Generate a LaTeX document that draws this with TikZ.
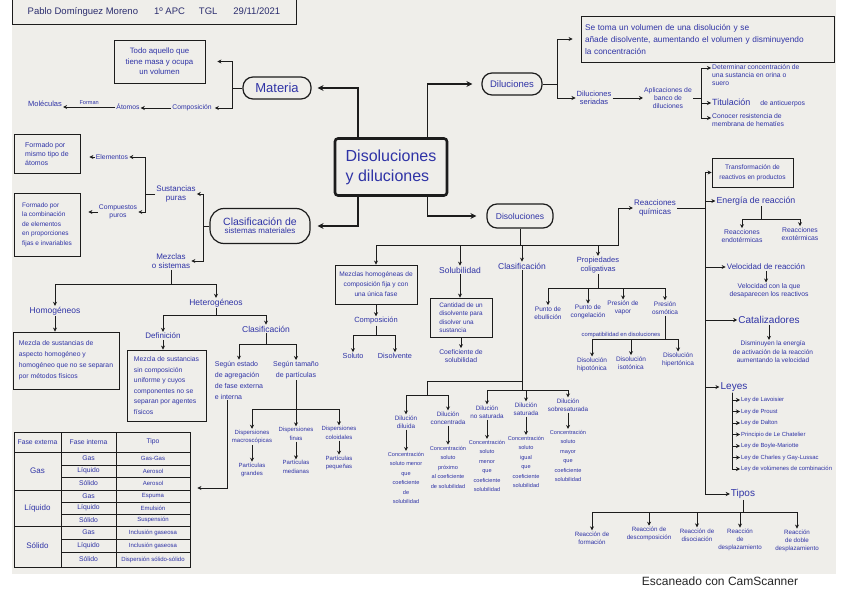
\documentclass[tikz,border=0pt]{standalone}
\usepackage{fontspec}
\setmainfont{Liberation Sans}
\usepackage{tikz}
\usetikzlibrary{positioning,arrows.meta,calc}
\definecolor{ink}{HTML}{2F33A6}
\definecolor{pen}{HTML}{1C1C1C}
\definecolor{paper}{HTML}{EFEEEA}
\definecolor{headink}{HTML}{2B2D6E}

\begin{document}
\begin{tikzpicture}[x=1pt, y=-1pt,
    hand/.style={text=ink, font=\fontsize{6.8}{8.3}\selectfont, align=center, inner sep=1pt},
    handTiny/.style={hand, font=\fontsize{5.6}{9.5}\selectfont},
    noteBox/.style={draw=pen, thick, hand, align=left, inner sep=3pt},
    bubble/.style={draw=pen, very thick, rounded corners=10pt, hand, inner sep=1pt},
    treeArrow/.style={-{Stealth[length=4pt, width=4pt]}, thick, draw=pen},
    treeLine/.style={thick, draw=pen},
    mainArrow/.style={-{Stealth[length=6pt, width=6pt]}, line width=1.6pt, draw=pen},
    cell/.style={text=ink, font=\fontsize{6.8}{8}\selectfont, inner sep=0pt}
]
    % Paper
    \fill[white] (0,0) rectangle (848,599);
    \fill[paper] (12,0) rectangle (836,574);
    \useasboundingbox (0,0) rectangle (848,599);

    % Header
    \node[draw=pen, thick, minimum width=284pt, minimum height=25pt, text=headink, font=\fontsize{9.5}{11}\selectfont] (head) at (154,11.5) {Pablo Domínguez Moreno\hspace{16pt}1º APC\hspace{14pt}TGL\hspace{16pt}29/11/2021};

    % Central node
    \node[draw=pen, line width=2.6pt, rounded corners=3pt, minimum width=112pt, minimum height=57pt, text=ink, font=\fontsize{16}{20}\selectfont, align=left, inner sep=2pt] (central) at (391,167) {Disoluciones\\y diluciones};

    % Materia
    \node[bubble, minimum width=68pt, minimum height=22pt, font=\fontsize{13}{14}\selectfont] (materia) at (277,88) {Materia};
    \node[noteBox, align=center, minimum width=91pt, minimum height=43pt, font=\fontsize{7.8}{10.5}\selectfont] (todo) at (159.5,61.5) {Todo aquello que\\tiene masa y ocupa\\un volumen};
    \node[hand] (compo) at (192,108) {Composición};
    \node[hand] (atomos) at (128,107) {Átomos};
    \node[hand, font=\fontsize{7.5}{8}\selectfont] (molec) at (45,104) {Moléculas};

    \draw[mainArrow, shorten >=6pt] ([xshift=24pt]central.north west) |- (materia.east);
    \draw[treeLine] (materia.west) -- ++(-10,0) coordinate (matJ);
    \draw[treeArrow, shorten >=12pt] (matJ) |- (todo.east);
    \draw[treeArrow, shorten >=2pt] (matJ) |- (compo.east);
    \draw[treeArrow] (compo.west) -- (compo.west -| atomos.east);
    \draw[treeArrow] (atomos.west) -- (atomos.west -| molec.east)
        node[midway, above=1pt, handTiny] (forman) {Forman};

    % Diluciones
    \node[bubble, minimum width=60pt, minimum height=22pt, font=\fontsize{9.5}{11}\selectfont] (dilu) at (512,84) {Diluciones};
    \node[noteBox, minimum width=253pt, minimum height=46pt, text width=245pt, font=\fontsize{8.3}{12}\selectfont] (diluBox) at (707.5,39) {Se toma un volumen de una disolución y se\\añade disolvente, aumentando el volumen y disminuyendo\\la concentración};
    \node[hand, font=\fontsize{7.5}{8.5}\selectfont] (seriadas) at (594,98) {Diluciones\\seriadas};
    \node[hand] (aplic) at (668,98) {Aplicaciones de\\banco de\\diluciones};
    \node[hand, anchor=north west, align=left] (determ) at (711,63) {Determinar concentración de\\una sustancia en orina o\\suero};
    \node[hand, anchor=west, align=left] (titul) at (711,103) {{\fontsize{9}{10}\selectfont Titulación}\hspace{10pt}de anticuerpos};
    \node[hand, anchor=north west, align=left] (conocer) at (711,112) {Conocer resistencia de\\membrana de hematíes};

    \draw[mainArrow, shorten >=9pt] ([xshift=-21pt]central.north east) |- (dilu.west);
    \draw[treeLine] (dilu.east) -- ++(15,0) coordinate (diluJ);
    \draw[treeArrow, shorten >=8pt] (diluJ) |- (diluBox.west);
    \draw[treeArrow] (diluJ) |- (seriadas.west);
    \draw[treeArrow] (seriadas.east) -- (aplic.west);
    \draw[treeLine] (aplic.east) -- ++(8,0) coordinate (aplJ);
    \draw[treeArrow] (aplJ) |- ([yshift=-5pt]determ.north west);
    \draw[treeArrow] (aplJ) |- (titul.west);
    \draw[treeArrow] (aplJ) |- ([yshift=-6pt]conocer.north west);

    % Clasificacion de sistemas materiales
    \node[bubble, minimum width=100pt, minimum height=35pt, rounded corners=14pt] (clasif) at (260,226) {{\fontsize{10.5}{12}\selectfont Clasificación de}\\{\fontsize{8}{9.5}\selectfont sistemas materiales}};
    \draw[mainArrow, shorten >=7pt] ([xshift=24pt]central.south west) |- (clasif.east);

    \node[hand, font=\fontsize{8}{9.5}\selectfont] (sustp) at (176,194) {Sustancias\\puras};
    \node[hand, font=\fontsize{8}{9.5}\selectfont] (mezclas) at (171,261) {Mezclas\\o sistemas};
    \draw[treeLine] (clasif.west) -- ++(-6,0) coordinate (clasJ);
    \draw[treeArrow] (clasJ) |- (sustp.east);
    \draw[treeArrow] (clasJ) |- (mezclas.east);

    \node[noteBox, minimum width=66pt, minimum height=39pt, font=\fontsize{7}{9}\selectfont] (formA) at (47,153.5) {Formado por\\mismo tipo de\\átomos};
    \node[noteBox, minimum width=66pt, minimum height=63pt, font=\fontsize{6.5}{9.5}\selectfont] (formB) at (47,224.5) {Formado por\\la combinación\\de elementos\\en proporciones\\fijas e invariables};
    \node[hand] (elem) at (112,157) {Elementos};
    \node[hand] (compur) at (118,212) {Compuestos\\puros};
    \draw[treeLine] (sustp.west) -- ++(-10,0) coordinate (sustJ);
    \draw[treeArrow] (sustJ) |- (elem.east);
    \draw[treeArrow] (sustJ) |- (compur.east);
    \draw[treeArrow, shorten >=9pt] (elem.west) -- (elem.west -| formA.east);
    \draw[treeArrow, shorten >=8pt] (compur.west) -- (compur.west -| formB.east);

    % Mezclas
    \draw[treeLine] (mezclas.south) -- ++(0,15) coordinate (mezJ);
    \node[hand, font=\fontsize{8.5}{9.5}\selectfont] (homog) at (55,311) {Homogéneos};
    \node[hand, font=\fontsize{8.5}{9.5}\selectfont] (heter) at (216,303) {Heterogéneos};
    \draw[treeArrow] (mezJ) -| (homog.north);
    \draw[treeArrow] (mezJ) -| (heter.north);
    \node[noteBox, minimum width=106pt, minimum height=57pt, font=\fontsize{6.8}{11}\selectfont] (homBox) at (66,360.5) {Mezcla de sustancias de\\aspecto homogéneo y\\homogéneo que no se separan\\por métodos físicos};
    \draw[treeArrow] (homog.south) -- (homog.south |- homBox.north);
    \draw[treeLine] (heter.south) -- ++(0,7) coordinate (hetJ);
    \node[hand, font=\fontsize{8}{9}\selectfont] (defin) at (163,336) {Definición};
    \node[hand, font=\fontsize{8.5}{9.5}\selectfont] (clasB) at (266,329) {Clasificación};
    \draw[treeArrow] (hetJ) -| (defin.north);
    \draw[treeArrow] (hetJ) -| (clasB.north);
    \node[noteBox, minimum width=79pt, minimum height=71pt, font=\fontsize{6.8}{10.5}\selectfont] (defBox) at (166.5,385.5) {Mezcla de sustancias\\sin composición\\uniforme y cuyos\\componentes no se\\separan por agentes\\físicos};
    \draw[treeArrow] (defin.south) -- (defin.south |- defBox.north);
    \draw[treeLine] (clasB.south) -- ++(0,11) coordinate (clasBJ);
    \node[hand, align=left, font=\fontsize{7}{11}\selectfont] (segEst) at (239,380) {Según estado\\de agregación\\de fase externa\\e interna};
    \node[hand, font=\fontsize{7}{11}\selectfont] (segTam) at (296,370) {Según tamaño\\de partículas};
    \draw[treeArrow] (clasBJ) -| (segEst.north);
    \draw[treeArrow] (clasBJ) -| (segTam.north);

    % Dispersiones
    \draw[treeLine] (segTam.south) -- ++(0,29) coordinate (tamJ);
    \node[hand, font=\fontsize{6}{8.5}\selectfont] (dMac) at (252,437) {Dispersiones\\macroscópicas};
    \node[hand, font=\fontsize{6}{8.5}\selectfont] (dFin) at (296,434) {Dispersiones\\finas};
    \node[hand, font=\fontsize{6}{8.5}\selectfont] (dCol) at (339,433) {Dispersiones\\coloidales};
    \draw[treeArrow] (tamJ) -| (dMac.north);
    \draw[treeArrow] (tamJ) -| (dFin.north);
    \draw[treeArrow] (tamJ) -| (dCol.north);
    \node[hand, font=\fontsize{6}{8.5}\selectfont] (pGra) at (252,470) {Partículas\\grandes};
    \node[hand, font=\fontsize{6}{8.5}\selectfont] (pMed) at (296,467) {Partículas\\medianas};
    \node[hand, font=\fontsize{6}{8.5}\selectfont] (pPeq) at (339,463) {Partículas\\pequeñas};
    \draw[treeArrow] (dMac.south) -- (pGra.north);
    \draw[treeArrow] (dFin.south) -- (pMed.north);
    \draw[treeArrow] (dCol.south) -- (pPeq.north);

    % Table of dispersions
    \node[draw=pen, thick, minimum width=176pt, minimum height=135pt, inner sep=0pt] (tabla) at (102,499.5) {};
    \draw[treeLine] (61,432) -- (61,567) (116,432) -- (116,567);
    \draw[treeLine] (14,452) -- (190,452) (14,490) -- (190,490) (14,526) -- (190,526);
    \draw[treeLine] (61,465) -- (190,465) (61,477) -- (190,477) (61,502) -- (190,502)
        (61,514) -- (190,514) (61,539) -- (190,539) (61,552) -- (190,552);
    \node[cell] (hExt) at (37.5,442) {Fase externa};
    \node[cell] (hInt) at (88.5,442) {Fase interna};
    \node[cell] (hTip) at (153,442) {Tipo};
    \foreach \fase/\y [count=\i] in {Gas/471, Líquido/508, Sólido/546}
        \node[cell, font=\fontsize{8}{9}\selectfont] (ext\i) at (37.5,\y) {\fase};
    \foreach \y/\fint/\tipo [count=\i] in {458.5/Gas/Gas-Gas, 471/Líquido/Aerosol, 483.5/Sólido/Aerosol,
        496/Gas/Espuma, 508/Líquido/Emulsión, 520/Sólido/Suspensión,
        532.5/Gas/Inclusión gaseosa, 545.5/Líquido/Inclusión gaseosa, 559.5/Sólido/Dispersión sólido-sólido}
    {
        \node[cell] (int\i) at (88.5,\y) {\fint};
        \node[cell, font=\fontsize{6}{7}\selectfont] (tip\i) at (153,\y) {\tipo};
    }
    \draw[treeArrow, shorten >=7pt] ([xshift=-12pt]segEst.south) |- ([yshift=11.5pt]tabla.east);

    % Disoluciones
    \node[bubble, minimum width=66pt, minimum height=24pt, font=\fontsize{8.5}{10}\selectfont] (disol) at (520,216) {Disoluciones};
    \draw[mainArrow, shorten >=10pt] ([xshift=-21pt]central.south east) |- (disol.west);
    \draw[treeLine] (disol.south) -- ++(0,17) coordinate (disJ);
    \node[noteBox, align=center, minimum width=82pt, minimum height=39pt, font=\fontsize{6.6}{10}\selectfont] (mhBox) at (376,284.5) {Mezclas homogéneas de\\composición fija y con\\una única fase};
    \node[hand, font=\fontsize{8.5}{9.5}\selectfont] (solub) at (460,270) {Solubilidad};
    \node[hand, font=\fontsize{8.5}{9.5}\selectfont] (clasC) at (522,266) {Clasificación};
    \node[hand, font=\fontsize{7.5}{9}\selectfont] (propC) at (598,265) {Propiedades\\coligativas};
    \node[hand, font=\fontsize{8}{9.5}\selectfont] (reacQ) at (655,208) {Reacciones\\químicas};
    \draw[treeArrow] (disJ) -| (mhBox.north);
    \draw[treeArrow] (disJ) -| (solub.north);
    \draw[treeArrow] (disJ) -| (clasC.north);
    \draw[treeArrow] (disJ) -| (propC.north);
    \draw[treeArrow] (disJ) -- ++(98,0) |- (reacQ.west);

    % Composicion de disoluciones
    \node[hand, font=\fontsize{7.5}{8.5}\selectfont] (compoB) at (376,321) {Composición};
    \draw[treeArrow] (mhBox.south) -- (compoB.north);
    \draw[treeLine] (compoB.south) -- ++(0,10) coordinate (compoBJ);
    \node[hand, font=\fontsize{7.3}{8}\selectfont] (soluto) at (353,356) {Soluto};
    \node[hand, font=\fontsize{7.3}{8}\selectfont] (disolv) at (395,356) {Disolvente};
    \draw[treeArrow] (compoBJ) -| (soluto.north);
    \draw[treeArrow] (compoBJ) -| (disolv.north);

    % Solubilidad
    \node[noteBox, minimum width=62pt, minimum height=39pt, font=\fontsize{6.4}{8.5}\selectfont] (cantBox) at (461,317.5) {Cantidad de un\\disolvente para\\disolver una\\sustancia};
    \draw[treeArrow] (solub.south) -- (solub.south |- cantBox.north);
    \node[hand] (coefS) at (461,356) {Coeficiente de\\solubilidad};
    \draw[treeArrow] (cantBox.south) -- (coefS.north);

    % Clasificacion de disoluciones
    \coordinate (kA) at (clasC.south |- 0,381);
    \coordinate (kB) at (427,395);
    \draw[treeLine] (clasC.south) -- (kA) -| (kB);
    \node[hand, font=\fontsize{6.3}{8}\selectfont] (dDil) at (406,422) {Dilución\\diluida};
    \node[hand, font=\fontsize{6.3}{8}\selectfont] (dCon) at (448,418) {Dilución\\concentrada};
    \node[hand, font=\fontsize{6.3}{8}\selectfont] (dNos) at (487,412) {Dilución\\no saturada};
    \node[hand, font=\fontsize{6.3}{8}\selectfont] (dSat) at (526,409) {Dilución\\saturada};
    \node[hand, font=\fontsize{6.3}{8}\selectfont] (dSob) at (568,405) {Dilución\\sobresaturada};
    \draw[treeArrow] (kB) -| (dDil.north);
    \draw[treeArrow] (kB) -| (dCon.north);
    \draw[treeLine] (kA) -- ++(0,9) coordinate (kC);
    \draw[treeArrow] (kC) -| (dNos.north);
    \draw[treeArrow] (kC) -| (dSat.north);
    \draw[treeArrow] (kC) -| (dSob.north);
    \node[handTiny] (cDil) at (406,478) {Concentración\\soluto menor\\que\\coeficiente\\de\\solubilidad};
    \node[handTiny] (cCon) at (448,467) {Concentración\\soluto\\próximo\\al coeficiente\\de solubilidad};
    \node[handTiny] (cNos) at (487,466) {Concentración\\soluto\\menor\\que\\coeficiente\\solubilidad};
    \node[handTiny] (cSat) at (526,462) {Concentración\\soluto\\igual\\que\\coeficiente\\solubilidad};
    \node[handTiny] (cSob) at (568,456) {Concentración\\soluto\\mayor\\que\\coeficiente\\solubilidad};
    \draw[treeArrow] (dDil.south) -- (cDil.north);
    \draw[treeArrow] (dCon.south) -- (cCon.north);
    \draw[treeArrow] (dNos.south) -- (cNos.north);
    \draw[treeArrow] (dSat.south) -- (cSat.north);
    \draw[treeArrow] (dSob.south) -- (cSob.north);

    % Propiedades coligativas
    \draw[treeLine] (propC.south) -- ++(0,14) coordinate (propJ);
    \node[hand, font=\fontsize{6.5}{8.5}\selectfont] (pEbu) at (548,313) {Punto de\\ebullición};
    \node[hand, font=\fontsize{6.5}{8.5}\selectfont] (pCon) at (588,312) {Punto de\\congelación};
    \node[hand, font=\fontsize{6.5}{8.5}\selectfont] (pVap) at (623,308) {Presión de\\vapor};
    \node[hand, font=\fontsize{6.5}{8.5}\selectfont] (pOsm) at (665,308) {Presión\\osmótica};
    \draw[treeArrow] (propJ) -| (pEbu.north);
    \draw[treeArrow] (propJ) -| (pCon.north);
    \draw[treeArrow] (propJ) -| (pVap.north);
    \draw[treeArrow] (propJ) -| (pOsm.north);
    \draw[treeLine] (pOsm.south) -- ++(0,24) coordinate (osmJ);
    \node[handTiny, anchor=south, font=\fontsize{5.8}{7}\selectfont] (compat) at (621,339) {compatibilidad en disoluciones};
    \node[hand, font=\fontsize{6.5}{8.5}\selectfont] (hipo) at (592,365) {Disolución\\hipotónica};
    \node[hand, font=\fontsize{6.5}{8.5}\selectfont] (iso) at (631,363) {Disolución\\isotónica};
    \node[hand, font=\fontsize{6.5}{8.5}\selectfont] (hiper) at (678,360) {Disolución\\hipertónica};
    \draw[treeArrow] (osmJ) -| (hipo.north);
    \draw[treeArrow] (osmJ) -| (iso.north);
    \draw[treeArrow] (osmJ) -| (hiper.north);

    % Reacciones quimicas
    \coordinate (reqJ) at (705,208);
    \draw[treeLine] (reacQ.east) -- (reqJ);
    \node[noteBox, align=center, minimum width=81pt, minimum height=29pt, font=\fontsize{6.6}{10}\selectfont] (transf) at (752.5,172.5) {Transformación de\\reactivos en productos};
    \node[hand, font=\fontsize{8.8}{10}\selectfont] (energ) at (756,201) {Energía de reacción};
    \node[hand] (rEndo) at (742,236) {Reacciones\\endotérmicas};
    \node[hand] (rExo) at (800,234) {Reacciones\\exotérmicas};
    \node[hand, font=\fontsize{8}{9}\selectfont] (veloc) at (766,267) {Velocidad de reacción};
    \node[hand] (velD) at (769,291) {Velocidad con la que\\desaparecen los reactivos};
    \node[hand, font=\fontsize{10}{11}\selectfont] (catal) at (769,320) {Catalizadores};
    \node[hand, font=\fontsize{6.5}{8.5}\selectfont] (catD) at (773,352) {Disminuyen la energía\\de activación de la reacción\\aumentando la velocidad};
    \node[hand, font=\fontsize{10}{11}\selectfont] (leyes) at (734,387) {Leyes};
    \node[hand, font=\fontsize{10}{11}\selectfont] (tipos) at (743,494) {Tipos};
    \draw[treeArrow] (reqJ) |- (transf.west);
    \draw[treeArrow] (reqJ) |- (energ.west);
    \draw[treeArrow] (reqJ) |- (veloc.west);
    \draw[treeArrow] (reqJ) |- (catal.west);
    \draw[treeArrow] (reqJ) |- (leyes.west);
    \draw[treeArrow] (reqJ) |- (tipos.west);

    \draw[treeLine] ([xshift=5pt]energ.south) -- ++(0,13) coordinate (enJ);
    \draw[treeArrow] (enJ) -| (rEndo.north);
    \draw[treeArrow] (enJ) -| (rExo.north);
    \draw[treeArrow] (veloc.south) -- (veloc.south |- velD.north);
    \draw[treeArrow] (catal.south) -- (catal.south |- catD.north);

    % Leyes
    \foreach \ley [count=\i] in {Ley de Lavoisier, Ley de Proust, Ley de Dalton, Principio de Le Chatelier,
        Ley de Boyle-Mariotte, Ley de Charles y Gay-Lussac, Ley de volúmenes de combinación}
    {
        \node[hand, anchor=west, font=\fontsize{5.9}{7}\selectfont] (ley\i) at (740,{388.5+11.5*\i}) {\ley};
        \draw[treeArrow] ([xshift=-2pt]leyes.south) |- (ley\i.west);
    }

    % Tipos
    \draw[treeLine] (tipos.south) -- ++(0,13) coordinate (tipJ);
    \node[hand, font=\fontsize{6.2}{8.3}\selectfont] (tForm) at (592,538) {Reacción de\\formación};
    \node[hand, font=\fontsize{6.2}{8.3}\selectfont] (tDesc) at (649,534) {Reacción de\\descomposición};
    \node[hand, font=\fontsize{6.2}{8.3}\selectfont] (tDiso) at (697,535) {Reacción de\\disociación};
    \node[hand, font=\fontsize{6.2}{8.3}\selectfont] (tDesp) at (740,540) {Reacción\\de\\desplazamiento};
    \node[hand, font=\fontsize{6.2}{8.3}\selectfont] (tDoble) at (797,541) {Reacción\\de doble\\desplazamiento};
    \draw[treeArrow] (tipJ) -| (tForm.north);
    \draw[treeArrow] (tipJ) -| (tDesc.north);
    \draw[treeArrow] (tipJ) -| (tDiso.north);
    \draw[treeArrow] (tipJ) -| (tDesp.north);
    \draw[treeArrow] (tipJ) -| (tDoble.north);

    % Scanner footer
    \node[font=\fontsize{12}{14}\selectfont, text=black!85] (scan) at (720,581) {Escaneado con CamScanner};
\end{tikzpicture}
\end{document}
